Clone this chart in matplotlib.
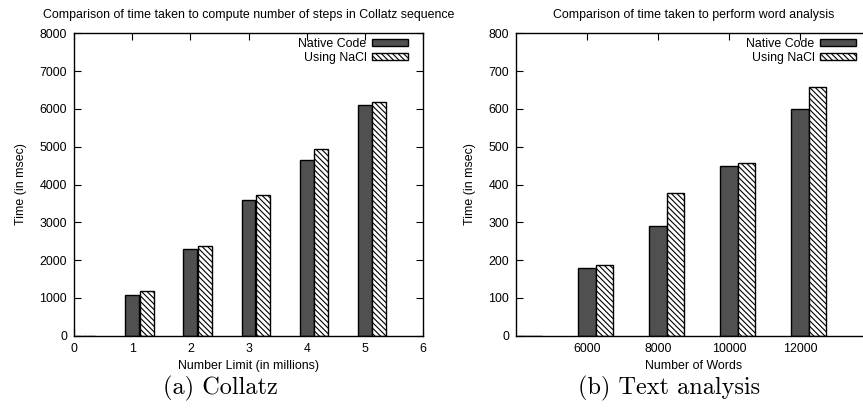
import matplotlib.pyplot as plt
from matplotlib.patches import Patch

plt.rcParams['font.family'] = ['Liberation Sans', 'DejaVu Sans']
plt.rcParams['hatch.linewidth'] = 0.8

# Collatz
collatz_x = [0, 1, 2, 3, 4, 5]
collatz_native = [0, 1070, 2300, 3590, 4660, 6095]
collatz_nacl = [0, 1176, 2380, 3715, 4932, 6193]

# word analysis
words_x = [4000, 6000, 8000, 10000, 12000]
words_native = [0, 178, 290, 449, 599]
words_nacl = [0, 186, 377, 456, 659]

DARK = '#505050'
FS = 8.9
HATCH = '\\\\\\\\\\\\'

fig = plt.figure(figsize=(8.63, 4.09), dpi=100)
ax1 = fig.add_axes([74/863, 73.3/409, 349/863, 302.4/409])
ax2 = fig.add_axes([516/863, 73.3/409, 355/863, 302.4/409])


def bars(ax, x, a, b, w):
    ax.bar(x, a, width=w, color=DARK, edgecolor='black', linewidth=1.0, zorder=2)
    ax.bar([v + w * 1.04 for v in x], b, width=w, color='white', edgecolor='black',
           hatch=HATCH, linewidth=1.0, zorder=2)


def style(ax, width_px):
    ax.tick_params(direction='in', length=5, width=0.8, top=True, right=True,
                   labelsize=FS, pad=5, colors='black')
    for s in ax.spines.values():
        s.set_linewidth(1.0)
    handles = [Patch(facecolor=DARK, edgecolor='black', label='Native Code'),
               Patch(facecolor='white', edgecolor='black', hatch=HATCH, label='Using NaCl')]
    ax.legend(handles=handles, loc='upper right', markerfirst=False, frameon=False,
              fontsize=FS, handlelength=2.9, handleheight=0.5, handletextpad=0.45,
              labelspacing=0.15, borderaxespad=0, borderpad=0,
              bbox_to_anchor=(1 - 15/width_px, 1 - 5/302.4))


bars(ax1, collatz_x, collatz_native, collatz_nacl, 0.24)
ax1.set_xlim(0, 6)
ax1.set_ylim(0, 8000)
ax1.set_xticks(range(0, 7))
ax1.set_yticks(range(0, 8001, 1000))
ax1.set_xlabel('Number Limit (in millions)', fontsize=FS, labelpad=4)
ax1.set_ylabel('Time (in msec)', fontsize=FS, labelpad=9)
ax1.set_title('Comparison of time taken to compute number of steps in Collatz sequence',
              fontsize=FS, pad=11)
style(ax1, 349)

bars(ax2, words_x, words_native, words_nacl, 480)
ax2.set_xlim(4000, 14000)
ax2.set_ylim(0, 800)
ax2.set_xticks([6000, 8000, 10000, 12000])
ax2.set_yticks(range(0, 801, 100))
ax2.set_xlabel('Number of Words', fontsize=FS, labelpad=4)
ax2.set_ylabel('Time (in msec)', fontsize=FS, labelpad=9)
ax2.set_title('Comparison of time taken to perform word analysis', fontsize=FS, pad=11)
style(ax2, 355)

fig.text(220/863, 1 - 388/409, '(a) Collatz', family='cmr10', fontsize=17.5,
         ha='center', va='center')
fig.text(669/863, 1 - 388/409, '(b) Text analysis', family='cmr10', fontsize=17.5,
         ha='center', va='center')

fig.savefig('out.png', dpi=100)
